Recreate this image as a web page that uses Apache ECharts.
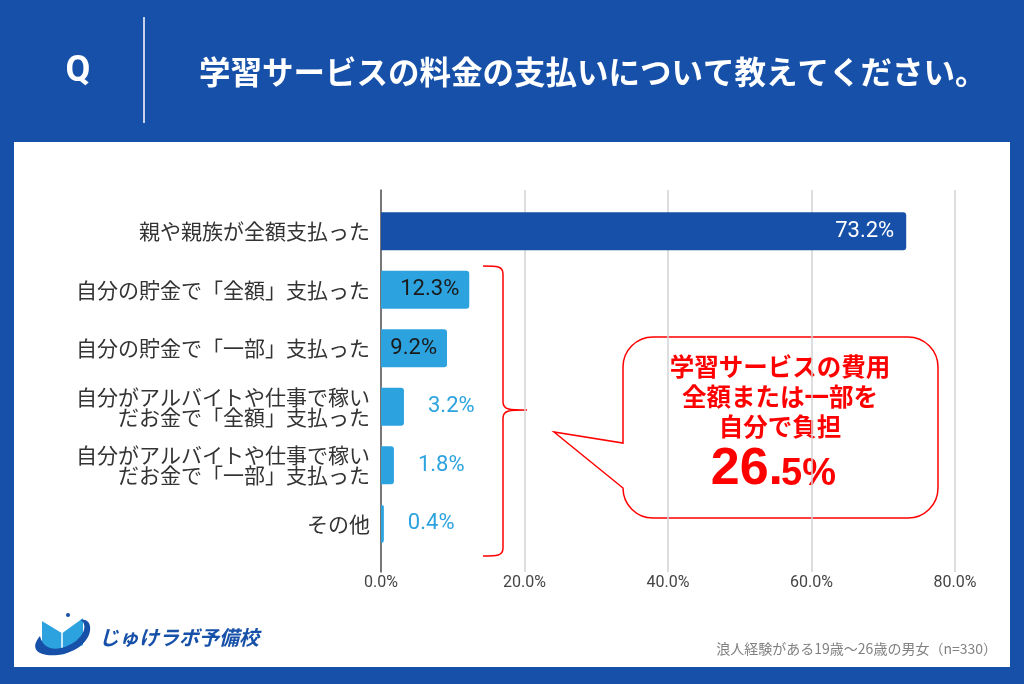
<!DOCTYPE html>
<html>
<head>
<meta charset="utf-8">
<script src="https://cdn.jsdelivr.net/npm/echarts@6/dist/echarts.min.js"></script>
<style>html,body{margin:0;padding:0;background:#1650a8;}#c{width:1024px;height:684px;}</style>
</head>
<body>
<div id="c"></div>
<script>
const categories = [
  '親や親族が全額支払った',
  '自分の貯金で「全額」支払った',
  '自分の貯金で「一部」支払った',
  '自分がアルバイトや仕事で稼い\nだお金で「全額」支払った',
  '自分がアルバイトや仕事で稼い\nだお金で「一部」支払った',
  'その他'
];
const values = [73.2, 12.3, 9.2, 3.2, 1.8, 0.4];
const xTicks = [0, 20, 40, 60, 80];
const titleText = '学習サービスの料金の支払いについて教えてください。';
const calloutLines = ['学習サービスの費用', '全額または一部を', '自分で負担'];
const calloutValueMain = '26.';
const calloutValueTail = '5%';
const footnote = '浪人経験がある19歳〜26歳の男女（n=330）';
const brandName = 'じゅけラボ予備校';

const BLUE = '#1650a8';
const LIGHT = '#2ca3df';
const RED = '#ff0000';
const JP = "'Noto Sans CJK JP', sans-serif";
const NUM = "Roboto, 'Noto Sans CJK JP', sans-serif";

const barData = values.map((v, i) => {
  const inside = v > 5;
  return {
    value: v,
    itemStyle: { color: i === 0 ? BLUE : LIGHT },
    label: {
      show: true,
      position: inside ? 'insideRight' : 'right',
      distance: inside ? (i === 0 ? 12 : 10) : 24,
      color: i === 0 ? '#ffffff' : (inside ? '#1a1a1a' : LIGHT),
      fontSize: 22,
      fontFamily: NUM,
      formatter: v.toFixed(1) + '%'
    }
  };
});

const r = 30;
const k = r * 0.552;
const bx1 = 623, by1 = 337, bx2 = 938, by2 = 518;
const bubblePath =
  `M ${bx1 + r} ${by1} L ${bx2 - r} ${by1} ` +
  `C ${bx2 - r + k} ${by1} ${bx2} ${by1 + r - k} ${bx2} ${by1 + r} ` +
  `L ${bx2} ${by2 - r} ` +
  `C ${bx2} ${by2 - r + k} ${bx2 - r + k} ${by2} ${bx2 - r} ${by2} ` +
  `L ${bx1 + r} ${by2} ` +
  `C ${bx1 + r - k} ${by2} ${bx1} ${by2 - r + k} ${bx1} ${by2 - r} ` +
  `L ${bx1} 488 L 554 432 L ${bx1} 443 L ${bx1} ${by1 + r} ` +
  `C ${bx1} ${by1 + r - k} ${bx1 + r - k} ${by1} ${bx1 + r} ${by1} Z`;

const bracePath =
  'M 483 266 C 497 266 503 266 503 274 L 503 402 C 503 410 510 410 527 410 ' +
  'C 510 410 503 410 503 418 L 503 548 C 503 556 497 556 483 556';

const swooshPath = 'M 40 636 C 28 650 40 657 58 655 C 76 653 92 640 90 626 C 89 620 84 619 80 620 C 86 622 87 632 76 641 C 64 650 44 654 40 636 Z';

echarts.graphic.registerShape('bubbleShape', echarts.graphic.extendPath(bubblePath, {}));
echarts.graphic.registerShape('braceShape', echarts.graphic.extendPath(bracePath, {}));
echarts.graphic.registerShape('swooshShape', echarts.graphic.extendPath(swooshPath, {}));

const chart = echarts.init(document.getElementById('c'), null, { renderer: 'canvas' });

const option = {
  backgroundColor: BLUE,
  animation: false,
  grid: [
    { left: 381, right: 69, top: 190, bottom: 112 },
    { left: 381, right: 69, top: 202, bottom: 131 }
  ],
  xAxis: [
    {
      gridIndex: 0, type: 'value', min: xTicks[0], max: xTicks[xTicks.length - 1],
      interval: xTicks[1] - xTicks[0],
      axisLine: { show: false }, axisTick: { show: false },
      splitLine: { show: true, lineStyle: { color: '#d3d3d3', width: 1.5 } },
      axisLabel: { margin: 3, color: '#444', fontSize: 16, fontFamily: NUM,
        formatter: v => v.toFixed(1) + '%' }
    },
    {
      gridIndex: 1, type: 'value', min: xTicks[0], max: xTicks[xTicks.length - 1],
      show: false
    }
  ],
  yAxis: [
    {
      gridIndex: 0, type: 'category', data: categories, inverse: true,
      axisLine: { show: true, lineStyle: { color: '#555', width: 1.5 } },
      axisTick: { show: false }, axisLabel: { show: false }, splitLine: { show: false }
    },
    {
      gridIndex: 1, type: 'category', data: categories, inverse: true,
      axisLine: { show: false }, axisTick: { show: false },
      axisLabel: { margin: 11, color: '#333', fontSize: 21, lineHeight: 20, fontFamily: JP }
    }
  ],
  series: [
    {
      type: 'bar', xAxisIndex: 1, yAxisIndex: 1,
      data: barData, barWidth: 38,
      itemStyle: { borderRadius: [0, 3, 3, 0] }
    }
  ],
  graphic: [
    { type: 'rect', z: -10, shape: { x: 14, y: 142, width: 996, height: 525 },
      style: { fill: '#ffffff' } },
    { type: 'text', x: 78, y: 72, style: { text: 'Q', fill: '#fff', font: "bold 36px Roboto, sans-serif",
      textAlign: 'center', textVerticalAlign: 'middle' } },
    { type: 'line', shape: { x1: 144, y1: 17, x2: 144, y2: 123 },
      style: { stroke: '#ffffff', lineWidth: 1.5 } },
    { type: 'text', x: 199, y: 72, style: { text: titleText, fill: '#fff', font: "bold 31.5px " + JP,
      textAlign: 'left', textVerticalAlign: 'middle' } },
    { type: 'braceShape', shape: {},
      style: { stroke: RED, lineWidth: 1.5, fill: null } },
    { type: 'bubbleShape', shape: {},
      style: { stroke: RED, lineWidth: 1.5, fill: '#ffffff' } },
    ...calloutLines.map((t, i) => ({
      type: 'text', x: 780, y: 367 + i * 30,
      style: { text: t, fill: RED, font: "bold 24.5px " + JP, textAlign: 'center', textVerticalAlign: 'middle' }
    })),
    { type: 'text', x: 783, y: 470, style: { text: calloutValueMain, fill: RED,
      font: "bold 52px 'Liberation Sans', Arial, sans-serif", textAlign: 'right', textVerticalAlign: 'middle' } },
    { type: 'text', x: 781, y: 475, style: { text: calloutValueTail, fill: RED,
      font: "bold 38px 'Liberation Sans', Arial, sans-serif", textAlign: 'left', textVerticalAlign: 'middle' } },
    { type: 'text', x: 997, y: 649, style: { text: footnote, fill: '#808080', font: "14px " + JP,
      textAlign: 'right', textVerticalAlign: 'middle' } },
    // logo
    { type: 'polygon', shape: { points: [[42, 620], [62, 632], [83, 617], [83, 645], [62, 655], [42, 646]] },
      style: { fill: LIGHT } },
    { type: 'polyline', shape: { points: [[42, 620], [62, 632], [83, 617]] },
      style: { stroke: '#ffffff', lineWidth: 2, fill: null } },
    { type: 'line', shape: { x1: 62, y1: 633, x2: 62, y2: 655 }, style: { stroke: '#ffffff', lineWidth: 1.5 } },
    { type: 'swooshShape', shape: {}, style: { fill: BLUE } },
    { type: 'circle', shape: { cx: 68, cy: 615, r: 2 }, style: { fill: BLUE } },
    { type: 'text', x: 99, y: 637, style: { text: brandName, fill: BLUE, font: "italic bold 20px " + JP,
      textAlign: 'left', textVerticalAlign: 'middle' } }
  ]
};
chart.setOption(option);
</script>
</body>
</html>
